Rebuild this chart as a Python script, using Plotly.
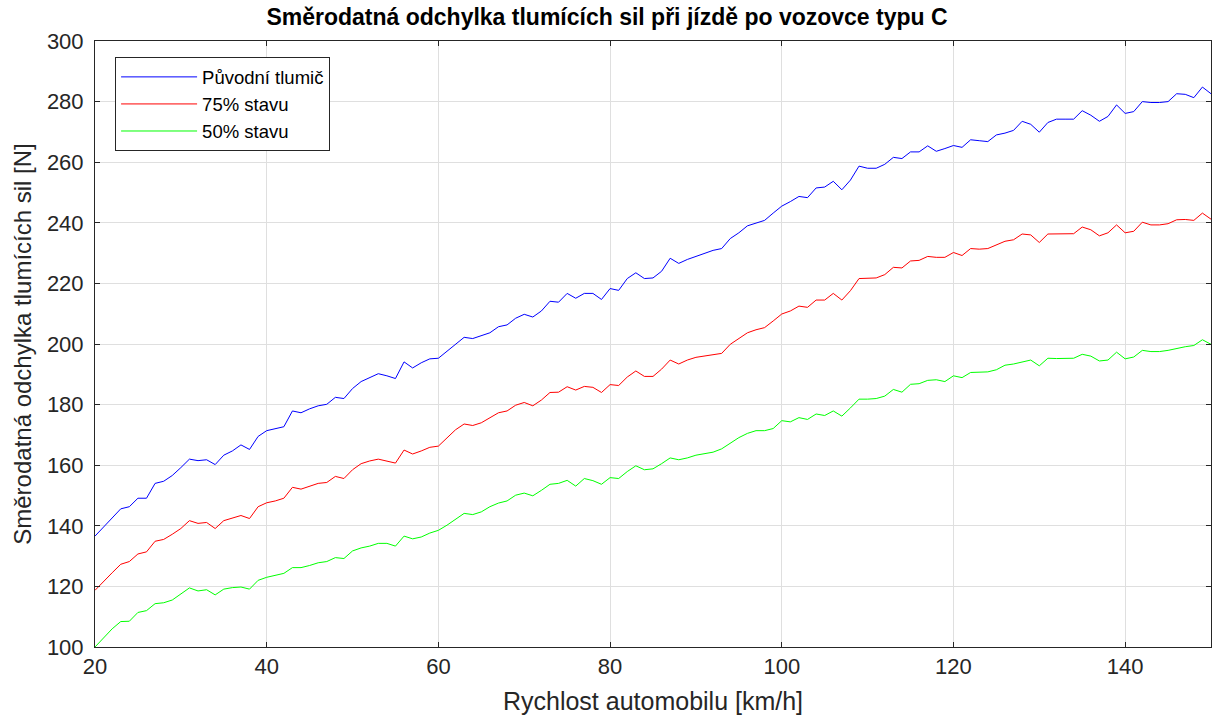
import plotly.graph_objects as go

# speed [km/h]
rychlost = list(range(20, 151))

puvodni = [
    136.6, 139.5, 142.6, 145.6, 146.3, 149.1, 149.1, 154.0, 154.7, 156.6,
    159.2, 162.0, 161.5, 161.8, 160.2, 163.3, 164.7, 166.7, 165.2, 169.5,
    171.4, 172.1, 172.7, 177.9, 177.3, 178.6, 179.6, 180.1, 182.4, 182.0,
    185.3, 187.6, 188.9, 190.2, 189.5, 188.6, 194.1, 192.1, 193.8, 195.1,
    195.3, 197.5, 199.9, 202.2, 201.8, 202.7, 203.7, 205.7, 206.3, 208.5,
    209.8, 208.9, 210.9, 214.1, 213.8, 216.7, 215.1, 216.7, 216.7, 214.7,
    218.3, 217.7, 221.6, 223.5, 221.6, 221.8, 224.0, 228.3, 226.6, 227.9,
    228.9, 230.0, 230.9, 231.5, 234.8, 236.7, 239.0, 239.9, 240.8, 243.2,
    245.5, 247.0, 248.7, 248.3, 251.5, 251.8, 253.7, 250.9, 254.1, 258.7,
    258.0, 258.0, 259.3, 261.6, 261.2, 263.4, 263.4, 265.4, 263.6, 264.5,
    265.5, 264.9, 267.4, 267.1, 266.8, 269.0, 269.6, 270.5, 273.5, 272.5,
    269.9, 273.1, 274.2, 274.2, 274.2, 277.0, 275.5, 273.5, 275.1, 278.9,
    276.1, 276.7, 280.0, 279.7, 279.7, 280.0, 282.6, 282.4, 281.3, 284.8,
    282.6,
]

stav75 = [
    118.7, 121.7, 124.5, 127.3, 128.2, 130.7, 131.4, 134.9, 135.5, 137.2,
    139.1, 141.7, 140.8, 141.1, 139.1, 141.7, 142.6, 143.4, 142.4, 146.3,
    147.6, 148.2, 149.1, 152.7, 152.1, 153.0, 154.0, 154.3, 156.3, 155.6,
    158.5, 160.5, 161.4, 162.0, 161.4, 160.7, 165.0, 163.7, 164.7, 165.9,
    166.3, 168.9, 171.7, 173.6, 173.1, 174.0, 175.6, 177.3, 177.9, 179.8,
    180.7, 179.6, 181.5, 184.0, 184.1, 185.9, 184.8, 186.0, 185.7, 184.0,
    186.6, 186.3, 189.1, 191.1, 189.3, 189.3, 191.7, 194.7, 193.4, 194.7,
    195.6, 196.0, 196.3, 196.9, 199.9, 201.8, 203.7, 204.7, 205.4, 207.6,
    209.9, 210.9, 212.5, 212.1, 214.5, 214.5, 216.7, 214.5, 217.6, 221.6,
    221.6, 221.8, 222.9, 225.3, 225.1, 227.4, 227.6, 228.9, 228.6, 228.6,
    230.2, 229.2, 231.5, 231.3, 231.5, 232.6, 233.9, 234.4, 236.3, 236.0,
    233.5, 236.3, 236.3, 236.4, 236.4, 238.6, 237.7, 235.7, 236.7, 239.3,
    236.7, 237.2, 240.2, 239.3, 239.3, 239.7, 241.0, 241.1, 240.8, 243.2,
    241.2,
]

stav50 = [
    100.0, 103.0, 106.0, 108.4, 108.5, 111.4, 112.0, 114.3, 114.6, 115.5,
    117.6, 119.5, 118.5, 118.9, 117.2, 119.1, 119.6, 119.8, 119.1, 122.0,
    123.0, 123.6, 124.3, 126.2, 126.2, 126.9, 127.8, 128.2, 129.5, 129.2,
    131.7, 132.7, 133.3, 134.2, 134.2, 133.3, 136.6, 135.7, 136.3, 137.6,
    138.5, 140.2, 142.1, 144.1, 143.7, 144.6, 146.3, 147.5, 148.2, 150.1,
    150.8, 149.9, 151.7, 153.7, 154.0, 155.0, 153.1, 155.6, 154.9, 153.7,
    155.9, 155.6, 157.9, 159.8, 158.5, 158.8, 160.5, 162.4, 161.8, 162.4,
    163.3, 163.7, 164.3, 165.4, 167.2, 169.1, 170.5, 171.4, 171.4, 172.1,
    174.7, 174.3, 175.7, 175.1, 176.9, 176.4, 177.9, 176.2, 178.9, 181.8,
    181.8, 182.0, 182.8, 185.0, 184.1, 186.7, 186.9, 188.0, 188.2, 187.6,
    189.5, 188.9, 190.6, 190.6, 190.8, 191.5, 193.0, 193.4, 194.1, 194.7,
    192.8, 195.3, 195.2, 195.3, 195.3, 196.6, 196.0, 194.4, 194.7, 197.3,
    195.1, 195.7, 197.9, 197.5, 197.5, 197.9, 198.6, 199.1, 199.5, 201.4,
    199.9,
]

serie = [
    ('Původní tlumič', puvodni, '#0000ff'),
    ('75% stavu', stav75, '#ff0000'),
    ('50% stavu', stav50, '#00ff00'),
]

FONT = 'Liberation Sans, Arial'

fig = go.Figure()
for name, values, color in serie:
    fig.add_trace(go.Scatter(
        x=rychlost, y=values, mode='lines', name=name,
        line=dict(color=color, width=1),
    ))

axis_style = dict(
    showline=True, linecolor='#262626', linewidth=1, mirror='ticks',
    ticks='inside', ticklen=5, tickcolor='#262626',
    showgrid=True, gridcolor='#dfdfdf', gridwidth=1,
    zeroline=False, automargin=False,
    tickfont=dict(family=FONT, size=22, color='#262626'),
)

fig.update_layout(
    width=1214, height=727,
    paper_bgcolor='white', plot_bgcolor='white',
    margin=dict(l=95, r=3, t=41, b=80),
    title=dict(
        text='<b>Směrodatná odchylka tlumících sil při jízdě po vozovce typu C</b>',
        x=0.5, xref='container', y=1 - 17 / 727, yanchor='middle',
        font=dict(family=FONT, size=23, color='black'),
    ),
    xaxis=dict(
        range=[20, 150], dtick=20, tick0=20,
        title=dict(text='Rychlost automobilu [km/h]', standoff=14,
                   font=dict(family=FONT, size=25, color='#262626')),
        **axis_style,
    ),
    yaxis=dict(
        range=[100, 300], dtick=20, tick0=100, ticklabelstandoff=6,
        title=dict(text='Směrodatná odchylka tlumících sil [N]', standoff=8,
                   font=dict(family=FONT, size=24, color='#262626')),
        **axis_style,
    ),
    legend=dict(
        x=0.018, y=0.973, xanchor='left', yanchor='top',
        bgcolor='white', bordercolor='#262626', borderwidth=1,
        font=dict(family=FONT, size=18.5, color='black'),
        itemwidth=76, tracegroupgap=0,
    ),
    showlegend=True,
)

# drop the default 8px page margin so the figure sits at the window corner
fig.write_html("out.html", config={'displayModeBar': False},
               post_script="document.body.style.margin='0';")
